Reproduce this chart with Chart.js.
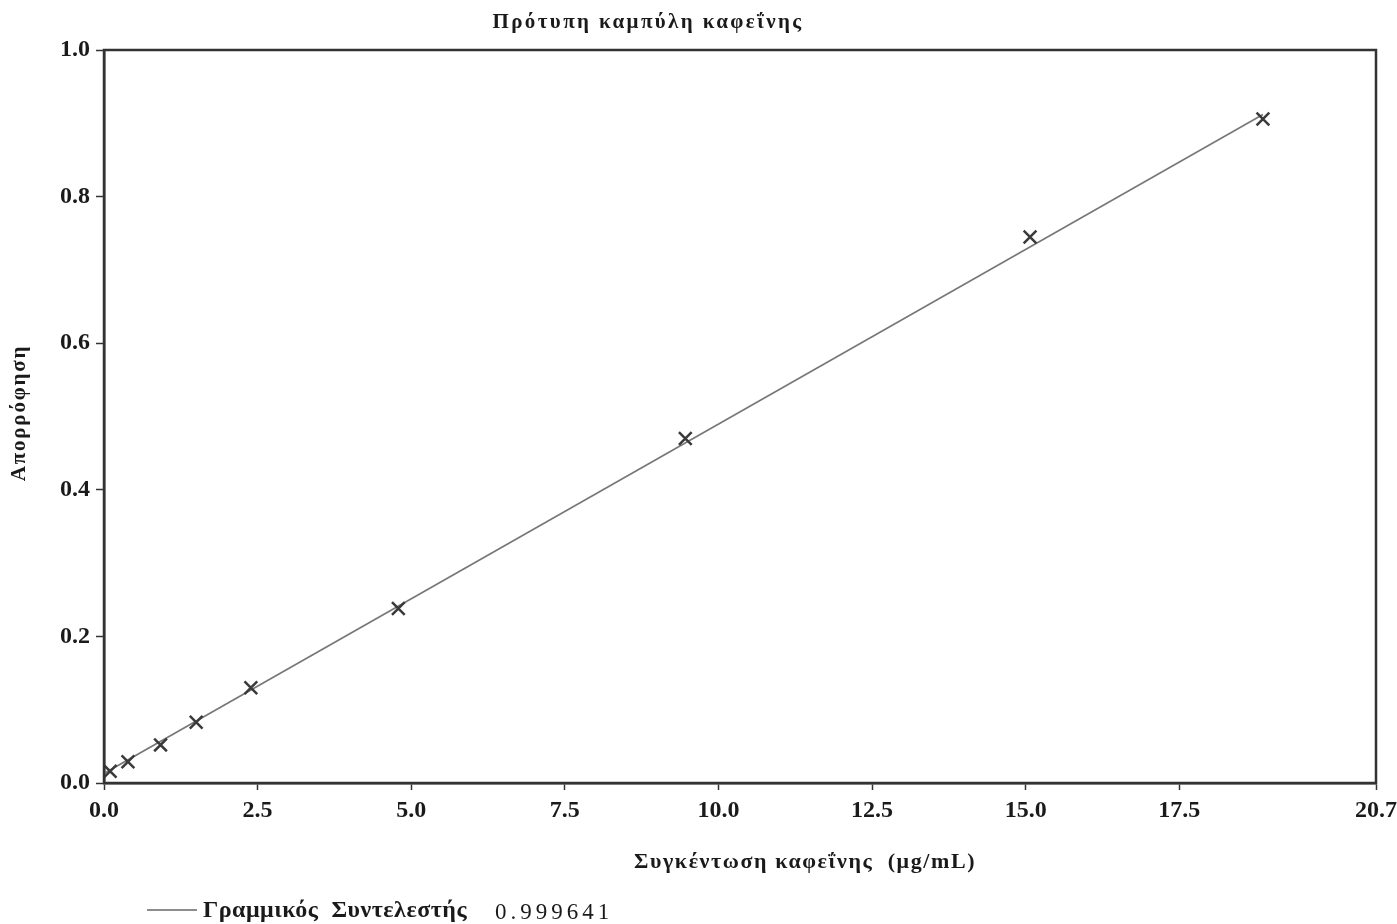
<!DOCTYPE html>
<html>
<head>
<meta charset="utf-8">
<script src="https://cdn.jsdelivr.net/npm/chart.js@4/dist/chart.umd.min.js"></script>
<style>
  html, body { margin: 0; padding: 0; background: #fff; }
  #wrap { width: 1397px; height: 924px; }
</style>
</head>
<body>
<div id="wrap"><canvas id="curveChart"></canvas></div>
<script>
// measured standards (concentration in ug/mL, absorbance)
var concentrations = [0.1, 0.39, 0.92, 1.5, 2.39, 4.79, 9.46, 15.07, 18.86];
var absorbances = [0.016, 0.029, 0.052, 0.083, 0.130, 0.238, 0.470, 0.745, 0.906];
var fitX = [0, 18.86];
var fitY = [0.013, 0.912];
var xTicks = [0, 2.5, 5, 7.5, 10, 12.5, 15, 17.5, 20.7];
var yTicks = [0, 0.2, 0.4, 0.6, 0.8, 1.0];
var chartTitle = 'Πρότυπη καμπύλη καφεΐνης';
var xTitle = 'Συγκέντωση καφεΐνης  (μg/mL)';
var yTitle = 'Απορρόφηση';
var legendName = 'Γραμμικός  Συντελεστής';
var legendValue = '0.999641';

document.addEventListener('DOMContentLoaded', function() {
    var serif = '"Liberation Serif", "DejaVu Serif", serif';

    function spacedText(ctx, text, x, y, font, spacing) {
        ctx.font = font;
        ctx.letterSpacing = spacing;
        ctx.fillText(text, x, y);
        ctx.letterSpacing = '0px';
    }

    var frameAndText = {
        id: 'frameAndText',
        afterDraw: function(chart) {
            var ctx = chart.ctx;
            var a = chart.chartArea;
            ctx.save();
            ctx.strokeStyle = '#333';
            ctx.lineWidth = 2.5;
            ctx.strokeRect(a.left, a.top, a.right - a.left, a.bottom - a.top);

            ctx.fillStyle = '#1a1a1a';
            ctx.textBaseline = 'middle';
            ctx.textAlign = 'center';
            spacedText(ctx, chartTitle, 648, 23, 'bold 21px ' + serif, '2.4px');
            spacedText(ctx, xTitle, 805, 862, 'bold 22px ' + serif, '1.6px');

            ctx.save();
            ctx.translate(20, 413);
            ctx.rotate(-Math.PI / 2);
            spacedText(ctx, yTitle, 0, 0, 'bold 21px ' + serif, '1.8px');
            ctx.restore();

            // legend
            ctx.strokeStyle = '#666';
            ctx.lineWidth = 1.5;
            ctx.beginPath();
            ctx.moveTo(147, 910);
            ctx.lineTo(197, 910);
            ctx.stroke();
            ctx.textAlign = 'left';
            spacedText(ctx, legendName, 203, 911, 'bold 24px ' + serif, '0.5px');
            spacedText(ctx, legendValue, 495, 913, '23px ' + serif, '4px');
            ctx.restore();
        }
    };

    var tickFont = { family: serif, size: 24, weight: 'bold' };

    var ctxCurve = document.getElementById('curveChart').getContext('2d');
    var curveChart = new Chart(ctxCurve, {
        type: 'scatter',
        data: {
            datasets: [{
                label: 'points',
                data: concentrations.map(function(c, i) { return {x: c, y: absorbances[i]}; }),
                pointStyle: 'crossRot',
                pointRadius: 9,
                pointBorderColor: '#3a3a3a',
                pointBorderWidth: 2.5,
                showLine: false
            }, {
                label: legendName,
                data: fitX.map(function(c, i) { return {x: c, y: fitY[i]}; }),
                showLine: true,
                borderColor: '#777',
                borderWidth: 1.6,
                pointRadius: 0
            }]
        },
        plugins: [frameAndText],
        options: {
            responsive: true,
            maintainAspectRatio: false,
            animation: false,
            layout: {
                padding: { top: 50, right: 21, bottom: 29, left: 0 }
            },
            scales: {
                x: {
                    type: 'linear',
                    min: 0,
                    max: 20.7,
                    afterBuildTicks: function(scale) {
                        scale.ticks = xTicks.map(function(v) { return {value: v}; });
                    },
                    afterFit: function(scale) {
                        scale.height = 112;
                        scale.paddingLeft = 0;
                        scale.paddingRight = 0;
                    },
                    grid: { drawOnChartArea: false, tickLength: 7, color: '#333', tickWidth: 1.5 },
                    border: { color: '#333', width: 2.5 },
                    ticks: {
                        padding: 6,
                        color: '#1a1a1a',
                        font: tickFont,
                        callback: function(v) { return v.toFixed(1); }
                    }
                },
                y: {
                    type: 'linear',
                    min: 0,
                    max: 1,
                    afterBuildTicks: function(scale) {
                        scale.ticks = yTicks.map(function(v) { return {value: v}; });
                    },
                    afterFit: function(scale) {
                        scale.width = 104;
                        scale.paddingTop = 0;
                        scale.paddingBottom = 0;
                    },
                    grid: { drawOnChartArea: false, tickLength: 8, color: '#333', tickWidth: 1.5 },
                    border: { color: '#333', width: 2.5 },
                    ticks: {
                        padding: 6,
                        color: '#1a1a1a',
                        font: tickFont,
                        callback: function(v) { return v.toFixed(1); }
                    }
                }
            },
            plugins: {
                legend: { display: false },
                tooltip: { enabled: false }
            }
        }
    });
});
</script>
</body>
</html>
